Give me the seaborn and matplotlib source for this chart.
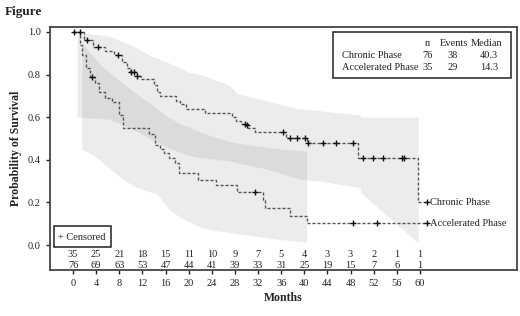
import numpy as np
import pandas as pd
import seaborn as sns
import matplotlib.pyplot as plt
from matplotlib.patches import Rectangle

# step curves (months, survival)
chronic_t = [0, 1.9, 3.5, 5.5, 7.0, 8.5, 9.3, 9.8, 11.0, 11.8, 14.0, 14.5, 15.0, 17.8, 18.5, 19.5,
             22.8, 27.5, 28.2, 29.0, 30.2, 31.5, 36.8, 40.4, 49.3, 59.7, 61.2]
chronic_s = [1.0, 0.96, 0.93, 0.91, 0.89, 0.86, 0.83, 0.81, 0.795, 0.78, 0.75, 0.72, 0.70, 0.675, 0.66, 0.64,
             0.62, 0.60, 0.58, 0.57, 0.55, 0.53, 0.50, 0.48, 0.41, 0.20, 0.20]
accel_t = [0, 1.2, 1.6, 2.2, 3.0, 3.8, 4.5, 5.5, 6.7, 8.0, 8.6, 13.2, 14.2, 15.0, 15.8, 16.6,
           17.6, 18.3, 21.6, 24.8, 28.3, 32.8, 33.2, 37.5, 40.4, 61.2]
accel_s = [1.0, 0.94, 0.89, 0.83, 0.79, 0.76, 0.72, 0.69, 0.67, 0.61, 0.55, 0.52, 0.47, 0.45, 0.43, 0.41,
           0.385, 0.34, 0.305, 0.28, 0.25, 0.21, 0.175, 0.136, 0.103, 0.103]

# censored marks
chronic_cens_t = [0.2, 1.2, 2.4, 4.3, 7.8, 10.0, 10.5, 11.1, 29.8, 30.1, 36.3, 37.5, 38.7, 40.1, 40.6,
                  43.2, 45.5, 48.4, 50.1, 51.9, 53.6, 56.9, 57.2, 61.2]
chronic_cens_s = [1.0, 1.0, 0.96, 0.93, 0.89, 0.81, 0.81, 0.795, 0.57, 0.565, 0.53, 0.50, 0.50, 0.50, 0.48,
                  0.48, 0.48, 0.48, 0.41, 0.41, 0.41, 0.41, 0.41, 0.20]
accel_cens_t = [3.3, 31.5, 48.4, 52.6, 61.2]
accel_cens_s = [0.79, 0.25, 0.103, 0.103, 0.103]

# confidence bands
chronic_band_t = [0.7, 6.4, 11, 13.3, 17, 20, 22, 27, 28.4, 33, 38, 39.3, 42.7, 49.6, 49.8, 59.7]
chronic_upper = [1.0, 0.98, 0.925, 0.89, 0.85, 0.81, 0.80, 0.75, 0.71, 0.68, 0.645, 0.64, 0.63, 0.61, 0.60, 0.60]
chronic_lower = [0.60, 0.59, 0.535, 0.50, 0.45, 0.42, 0.41, 0.395, 0.385, 0.36, 0.32, 0.31, 0.30, 0.27, 0.245, 0.01]
accel_band_t = [1.5, 3, 5, 8.5, 11, 14.5, 16.5, 18.5, 20, 22, 24, 28, 32, 36, 40.4]
accel_upper = [0.95, 0.90, 0.84, 0.76, 0.71, 0.64, 0.60, 0.57, 0.555, 0.53, 0.51, 0.48, 0.465, 0.45, 0.44]
accel_lower = [0.45, 0.43, 0.39, 0.31, 0.27, 0.24, 0.17, 0.13, 0.11, 0.085, 0.07, 0.055, 0.04, 0.025, 0.015]

# number at risk
risk_months = list(range(0, 61, 4))
risk_accel = [35, 25, 21, 18, 15, 11, 10, 9, 7, 5, 4, 3, 3, 2, 1, 1]
risk_chronic = [76, 69, 63, 53, 47, 44, 41, 39, 33, 31, 25, 19, 15, 7, 6, 1]

table_rows = ['Chronic Phase', 'Accelerated Phase']
table_n = [76, 35]
table_events = [38, 29]
table_median = ['40.3', '14.3']

sns.set_style('ticks')
plt.rcParams['font.family'] = ['Liberation Serif', 'DejaVu Serif']
ink = '#222222'

fig = plt.figure(figsize=(5.2, 3.16), dpi=100)
ax = fig.add_axes([50 / 520, 1 - 270 / 316, 467 / 520, 243 / 316])

def px(x, y):
    return x / 520, 1 - y / 316

ax.fill_between(chronic_band_t, chronic_lower, chronic_upper, color='gray', alpha=0.15, lw=0)
ax.fill_between(accel_band_t, accel_lower, accel_upper, color='gray', alpha=0.15, lw=0)

dash = (0, (2.2, 1.4))
df_c = pd.DataFrame({'t': chronic_t, 's': chronic_s})
df_a = pd.DataFrame({'t': accel_t, 's': accel_s})
sns.lineplot(data=df_c, x='t', y='s', ax=ax, drawstyle='steps-post', color='#555555',
             lw=1.0, linestyle=dash, estimator=None, sort=False)
sns.lineplot(data=df_a, x='t', y='s', ax=ax, drawstyle='steps-post', color='#555555',
             lw=1.0, linestyle=dash, estimator=None, sort=False)

cens = pd.DataFrame({'t': chronic_cens_t + accel_cens_t, 's': chronic_cens_s + accel_cens_s})
sns.scatterplot(data=cens, x='t', y='s', ax=ax, marker='+', s=22, color='#111111', linewidth=1.0, zorder=5)

ax.text(61.8, 0.20, 'Chronic Phase', fontsize=7.5, va='center', ha='left', color=ink)
ax.text(61.8, 0.103, 'Accelerated Phase', fontsize=7.5, va='center', ha='left', color=ink)

for m, a, c in zip(risk_months, risk_accel, risk_chronic):
    ax.text(m, -0.042, str(a), fontsize=7.5, ha='center', va='center', color=ink)
    ax.text(m, -0.094, str(c), fontsize=7.5, ha='center', va='center', color=ink)

ax.set_xlim(-4, 76.8)
ax.set_ylim(-0.117, 1.023)
ax.set_xticks(risk_months)
ax.set_yticks([0, 0.2, 0.4, 0.6, 0.8, 1.0])
ax.set_yticklabels(['0.0', '0.2', '0.4', '0.6', '0.8', '1.0'])
ax.tick_params(labelsize=7.5, colors=ink, length=3, width=1)
ax.set_xlabel('Months', fontsize=8.5, fontweight='bold', color=ink, labelpad=3)
ax.set_ylabel('Probability of Survival', fontsize=8.5, fontweight='bold', color=ink)
ax.yaxis.set_label_coords(-0.06, 0.5)
for sp in ax.spines.values():
    sp.set_color('#444444')
    sp.set_linewidth(1.3)

# stats box
fig.patches.append(Rectangle(px(333, 78), 178 / 520, 46 / 316, transform=fig.transFigure,
                             fill=False, ec='#222222', lw=1.1))
hy, r1, r2 = 43, 55.5, 68
fig.text(*px(430, hy), 'n', fontsize=7.5, ha='right', va='center', color=ink)
fig.text(*px(468, hy), 'Events', fontsize=7.5, ha='right', va='center', color=ink)
fig.text(*px(502, hy), 'Median', fontsize=7.5, ha='right', va='center', color=ink)
for yy, name, n, ev, med in zip([r1, r2], table_rows, table_n, table_events, table_median):
    fig.text(*px(342, yy), name, fontsize=7.5, ha='left', va='center', color=ink)
    fig.text(*px(433, yy), str(n), fontsize=7.5, ha='right', va='center', color=ink)
    fig.text(*px(458, yy), str(ev), fontsize=7.5, ha='right', va='center', color=ink)
    fig.text(*px(498, yy), med, fontsize=7.5, ha='right', va='center', color=ink)

# censored key
fig.patches.append(Rectangle(px(54, 247), 57 / 520, 21 / 316, transform=fig.transFigure,
                             fill=False, ec='#222222', lw=1.1))
fig.text(*px(58, 237), '+ Censored', fontsize=7.5, ha='left', va='center', color=ink)

fig.text(*px(5, 12), 'Figure', fontsize=9.5, fontweight='bold', ha='left', va='center', color=ink)

fig.savefig('out.png', dpi=100)
